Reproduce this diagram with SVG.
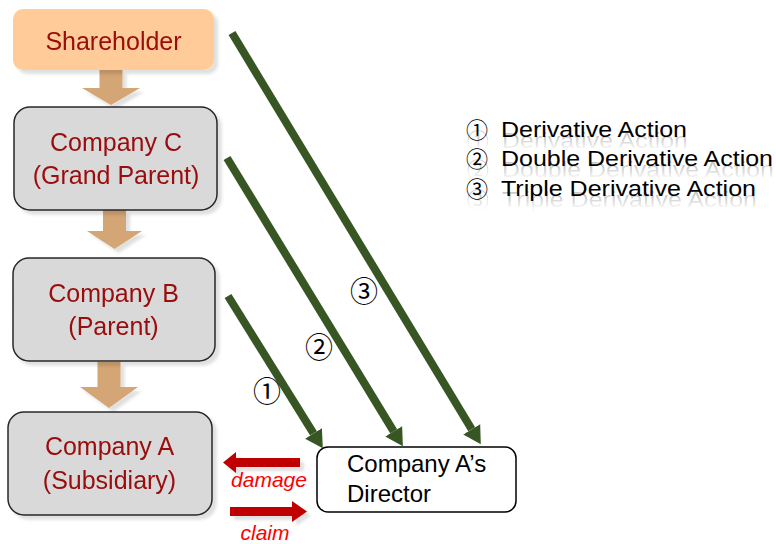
<svg xmlns="http://www.w3.org/2000/svg" xmlns:xlink="http://www.w3.org/1999/xlink" width="776" height="544" viewBox="0 0 776 544">
  <style>
    .entity { fill: #D9D9D9; stroke: #262626; stroke-width: 1.5; }
    .label { font-family: "Liberation Sans", Arial, sans-serif; font-size: 25px; fill: #9A0A0A; text-anchor: middle; }
    .director-box { fill: #FFFFFF; stroke: #000000; stroke-width: 1.5; }
    .director { font-family: "Liberation Sans", Arial, sans-serif; font-size: 24px; fill: #000000; }
    .flow { fill: #D4A574; }
    .action { fill: none; stroke: #375623; stroke-width: 8; stroke-linecap: butt; }
    .red-arrow { fill: #C00000; }
    .red-label { font-family: "Liberation Sans", Arial, sans-serif; font-size: 21px; font-style: italic; fill: #FF0000; text-anchor: middle; }
    .num { font-family: "Noto Sans CJK JP", "DejaVu Sans", sans-serif; fill: #000000; text-anchor: middle; }
    .legend { font-family: "Liberation Sans", Arial, sans-serif; font-size: 22px; fill: #000000; }
  </style>
  <defs>
    <filter id="shadow" x="-10%" y="-10%" width="130%" height="140%">
      <feDropShadow dx="4" dy="4" stdDeviation="1.5" flood-color="#000000" flood-opacity="0.12"/>
    </filter>
    <marker id="head" markerUnits="userSpaceOnUse" markerWidth="20" markerHeight="22" viewBox="0 -10 18 20" refX="0" refY="0" orient="auto">
      <path d="M0,-9 L16,0 L0,9 Z" fill="#375623"/>
    </marker>
    <!-- fading ghost under each legend line -->
    <linearGradient id="fade1" gradientUnits="userSpaceOnUse" x1="0" y1="136" x2="0" y2="150">
      <stop offset="0" stop-color="#fff" stop-opacity="0.22"/>
      <stop offset="1" stop-color="#fff" stop-opacity="0.02"/>
    </linearGradient>
    <linearGradient id="fade2" gradientUnits="userSpaceOnUse" x1="0" y1="165" x2="0" y2="179">
      <stop offset="0" stop-color="#fff" stop-opacity="0.22"/>
      <stop offset="1" stop-color="#fff" stop-opacity="0.02"/>
    </linearGradient>
    <linearGradient id="fade3" gradientUnits="userSpaceOnUse" x1="0" y1="195" x2="0" y2="209">
      <stop offset="0" stop-color="#fff" stop-opacity="0.22"/>
      <stop offset="1" stop-color="#fff" stop-opacity="0.02"/>
    </linearGradient>
    <mask id="m1" maskUnits="userSpaceOnUse" x="450" y="120" width="326" height="36"><rect x="450" y="120" width="326" height="36" fill="url(#fade1)"/></mask>
    <mask id="m2" maskUnits="userSpaceOnUse" x="450" y="149" width="326" height="36"><rect x="450" y="149" width="326" height="36" fill="url(#fade2)"/></mask>
    <mask id="m3" maskUnits="userSpaceOnUse" x="450" y="179" width="326" height="36"><rect x="450" y="179" width="326" height="36" fill="url(#fade3)"/></mask>
  </defs>

  <rect width="776" height="544" fill="#FFFFFF"/>

  <!-- ownership chain: downward block arrows -->
  <g id="ownership-arrows" class="flow" filter="url(#shadow)">
    <path d="M99.5,70 H122.5 V88 H140 L111,105 L82,88 H99.5 Z"/>
    <path d="M103,210 H126 V231 H142 L114.5,249 L87,231 H103 Z"/>
    <path d="M97.5,362 H120.5 V387 H138 L109,408 L80,387 H97.5 Z"/>
  </g>

  <g id="shareholder" filter="url(#shadow)">
    <rect x="13" y="9" width="201" height="61" rx="10" fill="#FFCC99"/>
    <text class="label" x="113.5" y="50">Shareholder</text>
  </g>

  <g id="company-c" filter="url(#shadow)">
    <rect class="entity" x="14" y="107" width="203" height="103" rx="16"/>
    <text class="label" x="116" y="151">Company C</text>
    <text class="label" x="116" y="184">(Grand Parent)</text>
  </g>

  <g id="company-b" filter="url(#shadow)">
    <rect class="entity" x="13" y="258" width="202" height="103" rx="16"/>
    <text class="label" x="113.5" y="302">Company B</text>
    <text class="label" x="113.5" y="335">(Parent)</text>
  </g>

  <g id="company-a" filter="url(#shadow)">
    <rect class="entity" x="8" y="412" width="204" height="103" rx="16"/>
    <text class="label" x="109.5" y="455">Company A</text>
    <text class="label" x="109.5" y="489">(Subsidiary)</text>
  </g>

  <g id="director">
    <rect class="director-box" x="317" y="447" width="199" height="65" rx="11"/>
    <text class="director" x="347" y="472">Company A’s</text>
    <text class="director" x="347" y="502">Director</text>
  </g>

  <!-- derivative action connectors -->
  <g id="connectors">
    <path class="action" d="M228,296 L313.5,433.4" marker-end="url(#head)"/>
    <path class="action" d="M227,158 L393.7,431.3" marker-end="url(#head)"/>
    <path class="action" d="M232,33 L471.7,429.3" marker-end="url(#head)"/>
    <text class="num" x="267" y="402" font-size="28">①</text>
    <text class="num" x="319" y="358" font-size="28">②</text>
    <text class="num" x="364" y="302" font-size="28">③</text>
  </g>

  <!-- damage / claim between director and subsidiary -->
  <g id="damage-claim">
    <g class="red-arrow" filter="url(#shadow)">
      <path d="M223,462.5 L236,452 V458 H300 V467 H236 V473 Z"/>
      <path d="M230,507 H292 V501 L307,511.5 L292,522 V516 H230 Z"/>
    </g>
    <text class="red-label" x="269" y="487">damage</text>
    <text class="red-label" x="265" y="540">claim</text>
  </g>

  <!-- legend with faint ghost below each line -->
  <g id="legend">
    <g mask="url(#m1)"><use xlink:href="#legend-1" transform="translate(1,11)"/></g>
    <g mask="url(#m2)"><use xlink:href="#legend-2" transform="translate(1,11)"/></g>
    <g mask="url(#m3)"><use xlink:href="#legend-3" transform="translate(1,11)"/></g>
    <g id="legend-1">
      <text class="num" x="477" y="138" font-size="22">①</text>
      <text class="legend" x="501" y="137" textLength="186" lengthAdjust="spacingAndGlyphs">Derivative Action</text>
    </g>
    <g id="legend-2">
      <text class="num" x="477" y="167" font-size="22">②</text>
      <text class="legend" x="501" y="166" textLength="272" lengthAdjust="spacingAndGlyphs">Double Derivative Action</text>
    </g>
    <g id="legend-3">
      <text class="num" x="477" y="197" font-size="22">③</text>
      <text class="legend" x="501" y="196" textLength="255" lengthAdjust="spacingAndGlyphs">Triple Derivative Action</text>
    </g>
  </g>
</svg>
